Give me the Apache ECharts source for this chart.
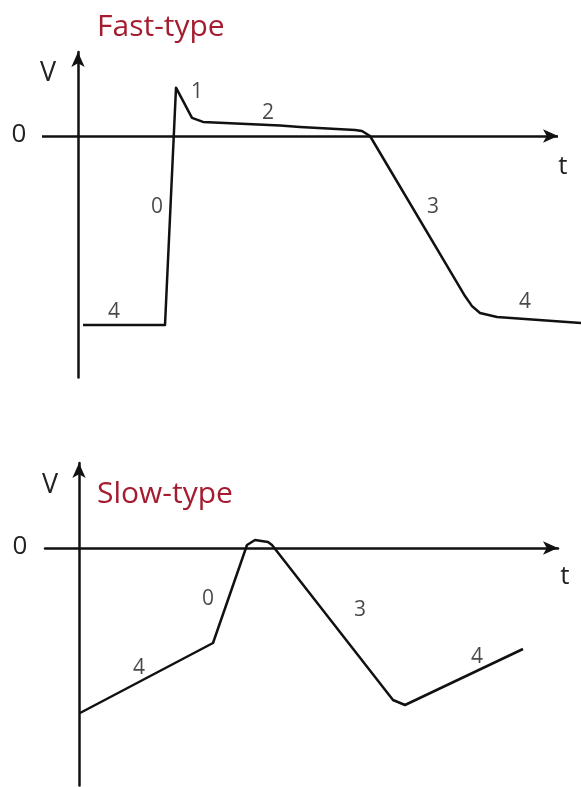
<!DOCTYPE html>
<html>
<head>
<meta charset="utf-8">
<script src="https://cdn.jsdelivr.net/npm/echarts@6/dist/echarts.min.js"></script>
<style>
  html, body { margin: 0; padding: 0; background: #fff; }
  #chart { width: 581px; height: 787px; }
</style>
</head>
<body>
<div id="chart"></div>
<script>
// fast-type action potential (t in arbitrary units, V in mV-like units)
var fastT = [5, 87, 98, 114, 125, 202, 222, 277, 284, 292, 387, 394, 402, 419, 503];
var fastV = [-90, -90, 23, 8.6, 6.7, 5, 4.3, 2.9, 2.4, 0, -76.2, -81, -84.3, -86.2, -89];
var fastLabelT = [79, 119, 190, 355, 36, 447];
var fastLabelV = [-34, 21, 11, -34, -83.8, -79];
var fastLabelText = ['0', '1', '2', '3', '4', '4'];
var fastAxisEnd = 480;   // where the t arrow stops

// slow-type action potential
var slowT = [1, 134, 168, 176, 189, 193, 314, 326, 444];
var slowV = [-66, -38, 1.2, 3.2, 2.4, 1.2, -60.8, -62.8, -40.4];
var slowLabelT = [129, 281, 60, 398];
var slowLabelV = [-20.4, -24.8, -48, -43.6];
var slowLabelText = ['0', '3', '4', '4'];

function pairs(xs, ys) {
    return xs.map(function (x, i) { return [x, ys[i]]; });
}
function labelData(xs, ys, names) {
    return xs.map(function (x, i) { return { name: names[i], value: [x, ys[i]] }; });
}

var font = 'Open Sans';
var ink = '#111';
var red = '#A51C30';

var axisLine = {
    onZero: true,
    symbol: ['none', 'arrow'],
    symbolSize: [10, 15],
    lineStyle: { color: ink, width: 2.5 }
};
function valueAxis(extra) {
    var a = {
        type: 'value',
        axisLine: axisLine,
        axisTick: { show: false },
        axisLabel: { show: false },
        splitLine: { show: false }
    };
    for (var k in extra) a[k] = extra[k];
    return a;
}
var phaseLabel = { show: true, position: 'inside', formatter: '{b}', color: '#1a1a1a', fontSize: 21, fontFamily: font };

var myChart = echarts.init(document.getElementById('chart'));

var option = {
    animation: false,
    backgroundColor: '#fff',
    grid: [
        // fast grid runs to the right edge so the tail of phase 4 is not cut
        { left: 42, right: 0, top: 52, bottom: 409.5 },
        { left: 45, right: 23, top: 463, bottom: 1.5 }
    ],
    xAxis: [
        valueAxis({ gridIndex: 0, min: -36, max: 503, axisLine: { show: false, onZero: true } }),
        valueAxis({ gridIndex: 1, min: -34, max: 479 })
    ],
    yAxis: [
        valueAxis({ gridIndex: 0, min: -115, max: 40 }),
        valueAxis({ gridIndex: 1, min: -95, max: 34 })
    ],
    series: [
        {
            type: 'line', xAxisIndex: 0, yAxisIndex: 0,
            data: pairs(fastT, fastV),
            showSymbol: false, clip: false,
            lineStyle: { color: ink, width: 2.5, join: 'round' },
            // t axis of the fast panel, drawn as an arrow along V = 0
            markLine: {
                silent: true,
                symbol: ['none', 'arrow'],
                symbolSize: [10, 15],
                label: { show: false },
                lineStyle: { color: ink, width: 2.5, type: 'solid' },
                data: [[{ coord: [-36, 0] }, { coord: [fastAxisEnd, 0] }]]
            }
        },
        {
            type: 'line', xAxisIndex: 1, yAxisIndex: 1,
            data: pairs(slowT, slowV),
            showSymbol: false, clip: false,
            lineStyle: { color: ink, width: 2.5, join: 'round' }
        },
        {
            type: 'scatter', xAxisIndex: 0, yAxisIndex: 0,
            data: labelData(fastLabelT, fastLabelV, fastLabelText),
            symbolSize: 0, silent: true,
            label: phaseLabel
        },
        {
            type: 'scatter', xAxisIndex: 1, yAxisIndex: 1,
            data: labelData(slowLabelT, slowLabelV, slowLabelText),
            symbolSize: 0, silent: true,
            label: phaseLabel
        }
    ],
    graphic: [
        { type: 'text', x: 97, y: 27, style: { text: 'Fast-type', fill: red, font: '30px "Open Sans"', textVerticalAlign: 'middle' } },
        { type: 'text', x: 97, y: 494, style: { text: 'Slow-type', fill: red, font: '30px "Open Sans"', textVerticalAlign: 'middle' } },
        { type: 'text', x: 48, y: 73, style: { text: 'V', fill: '#222', font: '27px "Open Sans"', textAlign: 'center', textVerticalAlign: 'middle' } },
        { type: 'text', x: 50, y: 485, style: { text: 'V', fill: '#222', font: '27px "Open Sans"', textAlign: 'center', textVerticalAlign: 'middle' } },
        { type: 'text', x: 19, y: 135, style: { text: '0', fill: '#222', font: '26px "Open Sans"', textAlign: 'center', textVerticalAlign: 'middle' } },
        { type: 'text', x: 20, y: 547, style: { text: '0', fill: '#222', font: '26px "Open Sans"', textAlign: 'center', textVerticalAlign: 'middle' } },
        { type: 'text', x: 563, y: 167, style: { text: 't', fill: '#222', font: '26px "Open Sans"', textAlign: 'center', textVerticalAlign: 'middle' } },
        { type: 'text', x: 565, y: 577, style: { text: 't', fill: '#222', font: '26px "Open Sans"', textAlign: 'center', textVerticalAlign: 'middle' } }
    ]
};

myChart.setOption(option);
</script>
</body>
</html>
